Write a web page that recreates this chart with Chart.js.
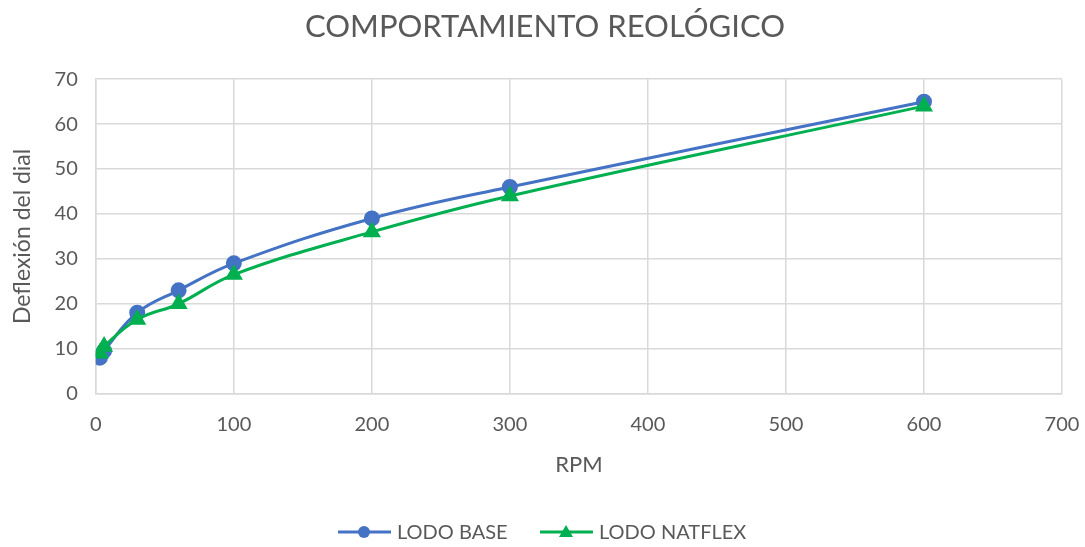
<!DOCTYPE html>
<html>
<head>
<meta charset="utf-8">
<script src="https://cdn.jsdelivr.net/npm/chart.js@4/dist/chart.umd.min.js"></script>
<style>
    html, body { margin: 0; padding: 0; background: #fff; }
    #wrap { width: 1085px; height: 547px; position: relative; }
</style>
</head>
<body>
<div id="wrap"><canvas id="reoChart"></canvas></div>
<script>
// Lecturas del viscosímetro
const rpm = [3, 6, 30, 60, 100, 200, 300, 600];
const lodoBase = [8, 9.5, 18, 23, 29, 39, 46, 65];
const lodoNatflex = [9, 10.5, 16.5, 20, 26.5, 36, 44, 64];

const xTicks = [0, 100, 200, 300, 400, 500, 600, 700];
const yTicks = [0, 10, 20, 30, 40, 50, 60, 70];

const FONT = 'Lato, "Open Sans", sans-serif';
const GREY = '#595959';
const GRID = '#d9d9d9';
const BLUE = '#4472C4';
const GREEN = '#00B050';

function toPoints(values) {
    return rpm.map((r, i) => ({ x: r, y: values[i] }));
}

// Leyenda abajo: línea con su marcador, como en Excel
const lineLegend = {
    id: 'lineLegend',
    afterDraw(chart) {
        const ctx = chart.ctx;
        const y = 532;
        const items = [
            { label: 'LODO BASE', color: BLUE, style: 'circle', x: 338 },
            { label: 'LODO NATFLEX', color: GREEN, style: 'triangle', x: 540 }
        ];
        ctx.save();
        ctx.font = '20px ' + FONT;
        ctx.textBaseline = 'middle';
        items.forEach(it => {
            ctx.strokeStyle = it.color;
            ctx.fillStyle = it.color;
            ctx.lineWidth = 3;
            ctx.beginPath();
            ctx.moveTo(it.x, y);
            ctx.lineTo(it.x + 53, y);
            ctx.stroke();
            const cx = it.x + 26;
            ctx.beginPath();
            if (it.style === 'circle') {
                ctx.arc(cx, y, 6, 0, Math.PI * 2);
            } else {
                ctx.moveTo(cx, y - 7);
                ctx.lineTo(cx + 7, y + 5);
                ctx.lineTo(cx - 7, y + 5);
                ctx.closePath();
            }
            ctx.fill();
            ctx.fillStyle = GREY;
            ctx.fillText(it.label, it.x + 59, y + 1);
        });
        ctx.restore();
    }
};

new Chart(document.getElementById('reoChart'), {
    type: 'scatter',
    data: {
        datasets: [
            {
                label: 'LODO BASE',
                data: toPoints(lodoBase),
                showLine: true,
                borderColor: BLUE,
                backgroundColor: BLUE,
                borderWidth: 3,
                pointStyle: 'circle',
                pointRadius: 6.5,
                pointHoverRadius: 6.5,
                tension: 0.4,
                order: 1
            },
            {
                label: 'LODO NATFLEX',
                data: toPoints(lodoNatflex),
                showLine: true,
                borderColor: GREEN,
                backgroundColor: GREEN,
                borderWidth: 3,
                pointStyle: 'triangle',
                pointRadius: 7.5,
                pointHoverRadius: 7.5,
                tension: 0.4,
                order: 0
            }
        ]
    },
    plugins: [lineLegend],
    options: {
        responsive: true,
        maintainAspectRatio: false,
        animation: false,
        layout: { padding: { left: 5, right: 0, top: 0, bottom: 69 } },
        plugins: {
            legend: { display: false },
            tooltip: { enabled: false },
            title: {
                display: true,
                text: 'COMPORTAMIENTO REOLÓGICO',
                color: GREY,
                font: { family: FONT, size: 31, weight: 'normal' },
                padding: { top: 8, bottom: 34 }
            }
        },
        scales: {
            x: {
                type: 'linear',
                min: 0,
                max: 700,
                afterBuildTicks: axis => { axis.ticks = xTicks.map(v => ({ value: v })); },
                // deja sólo el margen justo para la etiqueta "700"
                afterFit: axis => { axis.paddingRight = 23; },
                grid: { color: GRID, lineWidth: 1.5, drawTicks: false },
                border: { color: GRID, width: 1.5 },
                ticks: { color: GREY, font: { family: FONT, size: 20 }, padding: 19 },
                title: {
                    display: true,
                    text: 'RPM',
                    color: GREY,
                    font: { family: FONT, size: 22 },
                    padding: { top: -4, bottom: 0 }
                }
            },
            y: {
                min: 0,
                max: 70,
                afterBuildTicks: axis => { axis.ticks = yTicks.map(v => ({ value: v })); },
                grid: { color: GRID, lineWidth: 1.5, drawTicks: false },
                border: { color: GRID, width: 1.5 },
                ticks: { color: GREY, font: { family: FONT, size: 20 }, padding: 18 },
                title: {
                    display: true,
                    text: 'Deflexión del dial',
                    color: GREY,
                    font: { family: FONT, size: 23 },
                    padding: { top: 4, bottom: 0 }
                }
            }
        }
    }
});
</script>
</body>
</html>
